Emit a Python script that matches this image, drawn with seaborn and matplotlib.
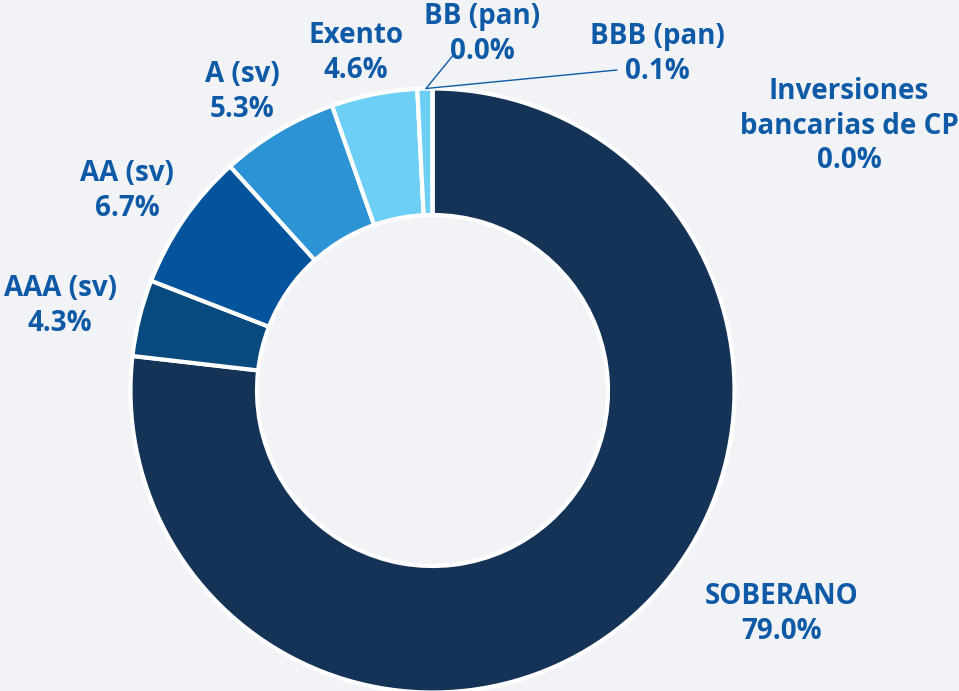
import matplotlib
matplotlib.use("Agg")
import matplotlib.pyplot as plt
import seaborn as sns

# ── Data ──────────────────────────────────────────────────────────────────────
categories = ["SOBERANO", "AAA (sv)", "AA (sv)", "A (sv)", "Exento",
              "BB (pan)", "BBB (pan)", "Inversiones\nbancarias de CP"]
# slice sizes as drawn in the reference (%)
shares = [76.9, 4.1, 7.4, 6.3, 4.6, 0.0, 0.8, 0.0]
# percentages printed on the labels
pct_labels = ["79.0%", "4.3%", "6.7%", "5.3%", "4.6%", "0.0%", "0.1%", "0.0%"]
colors = ["#153257", "#084a7e", "#03539d", "#2c93d5", "#6dcff6",
          "#6dcff6", "#6dcff6", "#6dcff6"]

BG = "#f1f3f6"
TXT = "#0e5aa7"
W, H = 959, 691

sns.set_theme(style="white")
plt.rcParams["font.family"] = ["Open Sans", "DejaVu Sans"]

fig = plt.figure(figsize=(W / 100, H / 100), dpi=100)
fig.patch.set_facecolor(BG)
ax = fig.add_axes([0, 0, 1, 1])
ax.set_facecolor(BG)

cx, cy, r_out, r_in = 432.5, H - 390.5, 302, 175.5
ax.pie(shares, colors=colors, startangle=90, counterclock=False,
       center=(cx, cy), radius=r_out, normalize=True,
       wedgeprops=dict(width=r_out - r_in, edgecolor="white", linewidth=3))

ax.set_xlim(0, W)
ax.set_ylim(0, H)
ax.set_aspect("equal")
ax.axis("off")

# label anchor (centre of text block, pixel coords from top-left)
label_pos = [(782, 614), (60, 306), (127, 191), (242, 92), (356, 53),
             (482, 34), (657, 54), (849, 126)]
for name, pct, (x, y) in zip(categories, pct_labels, label_pos):
    ax.text(x, H - y, f"{name}\n{pct}", ha="center", va="center",
            color=TXT, fontsize=20, fontweight="bold", linespacing=1.27)

# leader lines for the tiny slices
tip = (426, H - 88.5)
for start in [(455, H - 53), (617, H - 70)]:
    ax.plot([start[0], tip[0]], [start[1], tip[1]], color=TXT, lw=1)

fig.savefig("out.png", dpi=100, facecolor=BG)
